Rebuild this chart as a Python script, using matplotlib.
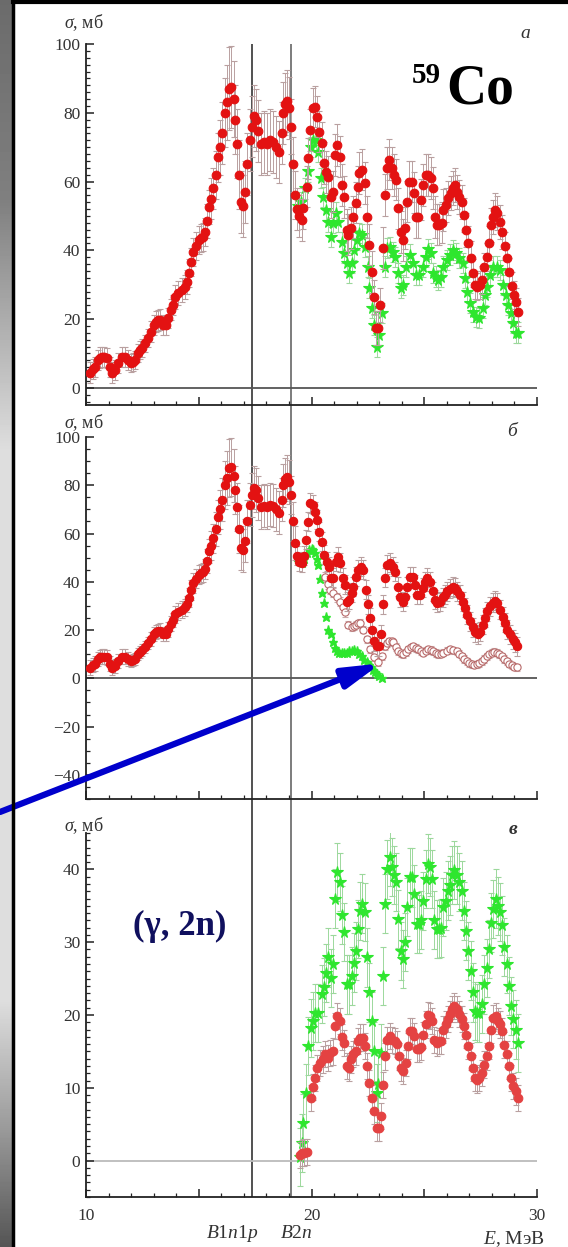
import numpy as np
import matplotlib
matplotlib.use("Agg")
import matplotlib.pyplot as plt
from matplotlib.lines import Line2D
from matplotlib.ticker import MultipleLocator, FixedFormatter, FixedLocator

plt.rcParams['font.family'] = ['Liberation Serif', 'DejaVu Serif']
plt.rcParams['mathtext.fontset'] = 'custom'
plt.rcParams['mathtext.rm'] = 'Liberation Serif'
plt.rcParams['mathtext.it'] = 'Liberation Serif:italic'
plt.rcParams['mathtext.bf'] = 'Liberation Serif:bold'

# thresholds (MeV)
B1N1P = 17.35
B2N = 19.1

# (E, sigma, error) -- part common to panels a and b
red_low = [(10.18, 4.4, 3), (10.3, 5.5, 3), (10.4, 6.1, 3), (10.53, 8.1, 3), (10.62, 8.8, 3),
           (10.7, 9.0, 3), (10.82, 9.0, 3), (10.93, 8.7, 3), (11.06, 6.1, 3), (11.15, 4.4, 3),
           (11.3, 5.2, 3), (11.44, 7.2, 3), (11.6, 9.0, 3), (11.73, 9.0, 3), (11.86, 8.1, 3),
           (12.0, 7.2, 2.5), (12.1, 7.5, 2.5), (12.17, 8.1, 2.5), (12.3, 10.1, 2.5), (12.4, 11.0, 2.5),
           (12.48, 11.6, 2.5), (12.6, 13.0, 2.5), (12.75, 14.5, 2.5), (12.9, 16.3, 3), (13.0, 18.3, 3),
           (13.1, 19.2, 3), (13.2, 19.6, 3), (13.3, 19.8, 3), (13.4, 18.3, 3), (13.55, 18.3, 3),
           (13.65, 20.3, 3), (13.75, 22.7, 3), (13.85, 24.1, 3), (13.95, 26.5, 3.5), (14.1, 27.6, 3.5),
           (14.25, 28.5, 3.5), (14.4, 29.4, 3.5), (14.5, 30.8, 3.5), (14.57, 33.4, 4), (14.65, 36.6, 4),
           (14.75, 39.5, 4), (14.87, 41.3, 4), (15.0, 43.0, 4), (15.1, 43.5, 4), (15.2, 43.9, 4),
           (15.28, 45.3, 4), (15.35, 48.5, 5), (15.47, 52.6, 5), (15.56, 55.0, 6), (15.65, 58.0, 6),
           (15.75, 62.0, 7), (15.85, 67.0, 7), (15.95, 70.0, 8), (16.05, 74.0, 9), (16.15, 80.0, 10),
           (16.25, 83.0, 11), (16.35, 87.0, 12), (16.45, 87.5, 12), (16.55, 84.0, 11), (16.62, 78.0, 10),
           (16.7, 71.0, 10), (16.78, 62.0, 10), (16.87, 54.0, 9), (16.96, 53.0, 9), (17.05, 57.0, 9),
           (17.15, 65.0, 9), (17.27, 72.0, 9), (17.36, 76.0, 9), (17.45, 79.0, 9), (17.54, 78.0, 9),
           (17.64, 74.8, 9), (17.76, 71.0, 9), (17.9, 71.5, 9), (18.03, 71.0, 9), (18.16, 72.0, 9),
           (18.3, 71.5, 9), (18.43, 70.0, 9), (18.56, 68.6, 9), (18.68, 74.0, 9), (18.75, 80.0, 9),
           (18.83, 82.5, 9), (18.92, 83.5, 9), (19.02, 81.4, 9), (19.08, 76.0, 8), (19.17, 65.0, 8),
           (19.27, 56.2, 7)]

red_a = [(19.34, 52.0, 6), (19.45, 50.0, 6), (19.57, 48.8, 6), (19.64, 52.2, 6), (19.79, 58.5, 6),
         (19.86, 66.8, 6), (19.95, 75.0, 6), (20.05, 81.3, 6), (20.16, 81.8, 6), (20.23, 78.9, 6),
         (20.35, 74.5, 6), (20.45, 71.2, 6), (20.55, 65.4, 6), (20.64, 62.8, 6), (20.74, 61.3, 6),
         (20.85, 55.5, 6), (20.94, 57.0, 6), (21.04, 67.7, 6), (21.14, 70.6, 6), (21.26, 67.2, 6),
         (21.34, 59.0, 6), (21.45, 55.5, 6), (21.56, 45.9, 6), (21.63, 44.5, 6), (21.75, 46.5, 6),
         (21.85, 49.7, 6), (21.97, 53.8, 6), (22.05, 58.5, 6), (22.12, 62.5, 6), (22.24, 63.4, 6),
         (22.37, 59.6, 6), (22.45, 49.7, 6), (22.56, 41.6, 6), (22.67, 33.7, 6), (22.77, 26.5, 5),
         (22.86, 17.4, 5), (22.96, 17.4, 5), (23.05, 24.1, 5), (23.16, 40.7, 6), (23.26, 56.1, 6),
         (23.36, 63.9, 6), (23.45, 66.3, 6), (23.56, 63.9, 6), (23.66, 61.9, 6), (23.75, 60.5, 6),
         (23.85, 52.2, 6), (23.96, 45.3, 6), (24.04, 43.0, 6), (24.15, 46.5, 6), (24.25, 54.1, 6),
         (24.34, 59.9, 6), (24.44, 59.9, 6), (24.55, 56.7, 6), (24.63, 49.7, 6), (24.74, 49.7, 6),
         (24.84, 54.7, 6), (24.96, 59.0, 6), (25.06, 61.9, 6), (25.18, 61.9, 6), (25.29, 61.0, 6),
         (25.37, 58.1, 6), (25.48, 49.7, 6), (25.55, 47.4, 6), (25.67, 47.4, 6), (25.77, 48.0, 6),
         (25.85, 51.7, 6), (25.96, 53.2, 5), (26.07, 55.2, 5), (26.17, 56.7, 5), (26.26, 58.1, 5),
         (26.36, 59.0, 5), (26.47, 57.0, 5), (26.55, 55.5, 5), (26.66, 54.1, 5), (26.76, 50.3, 5),
         (26.85, 45.9, 5), (26.95, 42.2, 5), (27.06, 37.8, 5), (27.15, 33.4, 4), (27.25, 29.9, 4),
         (27.35, 29.4, 4), (27.47, 29.9, 4), (27.56, 31.4, 4), (27.65, 35.2, 4), (27.77, 38.1, 4),
         (27.86, 42.2, 5), (27.95, 47.4, 5), (28.04, 49.7, 5), (28.14, 51.7, 5), (28.24, 50.9, 5),
         (28.36, 48.3, 5), (28.45, 45.3, 5), (28.57, 41.3, 4), (28.66, 37.8, 4), (28.77, 33.7, 4),
         (28.88, 29.7, 4), (28.98, 27.0, 4), (29.07, 25.0, 4), (29.17, 22.1, 4)]

green_a = [(19.4, 53.0, 3), (19.55, 54.0, 3), (19.7, 58.0, 3), (19.85, 63.0, 3), (19.97, 70.0, 3),
           (20.08, 72.1, 3), (20.19, 72.0, 3), (20.3, 68.6, 3), (20.4, 61.0, 3), (20.52, 55.5, 3),
           (20.64, 51.7, 3), (20.74, 48.3, 3), (20.85, 43.9, 3), (20.97, 48.0, 3), (21.09, 50.9, 3),
           (21.19, 48.3, 3), (21.34, 42.4, 3), (21.44, 39.2, 3), (21.56, 36.3, 3), (21.67, 33.4, 3),
           (21.78, 36.3, 3), (21.88, 40.1, 3), (22.0, 43.0, 3), (22.12, 45.0, 3), (22.22, 44.5, 3),
           (22.37, 41.0, 3), (22.49, 35.2, 3), (22.56, 29.0, 3), (22.67, 23.3, 3), (22.77, 18.3, 3),
           (22.89, 11.9, 3), (23.0, 15.4, 3), (23.11, 21.8, 3), (23.26, 35.2, 3), (23.36, 40.7, 3),
           (23.48, 41.0, 3), (23.6, 39.5, 3), (23.7, 38.1, 3), (23.85, 33.4, 3), (23.96, 29.1, 3),
           (24.07, 29.9, 3), (24.19, 35.2, 3), (24.37, 38.7, 3), (24.51, 36.3, 3), (24.63, 32.8, 3),
           (24.78, 32.8, 3), (24.93, 35.2, 3), (25.08, 38.1, 3), (25.18, 40.4, 3), (25.29, 39.2, 3),
           (25.4, 33.4, 3), (25.52, 32.3, 3), (25.62, 31.4, 3), (25.73, 32.3, 3), (25.85, 35.2, 3),
           (26.0, 37.2, 3), (26.14, 38.7, 3), (26.29, 40.1, 3), (26.41, 39.2, 3), (26.55, 37.8, 3),
           (26.7, 36.3, 3), (26.81, 32.0, 3), (26.91, 27.9, 3), (27.03, 24.7, 3), (27.15, 22.1, 3),
           (27.3, 20.6, 3), (27.44, 20.3, 3), (27.59, 23.3, 3), (27.69, 27.0, 3), (27.8, 29.4, 3),
           (27.92, 32.8, 3), (28.06, 35.2, 3), (28.21, 35.2, 3), (28.36, 34.3, 3), (28.5, 29.9, 3),
           (28.62, 27.0, 3), (28.73, 24.1, 3), (28.83, 21.8, 3), (28.95, 18.9, 3), (29.07, 16.0, 3),
           (29.17, 16.0, 3)]

red_b = [(19.34, 50.8, 4), (19.46, 48.3, 4), (19.56, 47.9, 4), (19.67, 50.8, 4), (19.76, 57.4, 4),
         (19.86, 64.9, 4), (19.93, 72.7, 4), (20.05, 71.9, 4), (20.16, 69.0, 4), (20.26, 65.7, 4),
         (20.35, 60.7, 4), (20.45, 56.6, 4), (20.55, 51.2, 4), (20.67, 48.3, 4), (20.78, 46.3, 4),
         (20.85, 41.7, 4), (20.97, 41.7, 4), (21.09, 48.3, 4), (21.19, 50.4, 4), (21.26, 47.9, 4),
         (21.38, 41.7, 4), (21.49, 38.8, 4), (21.56, 31.8, 4), (21.68, 32.6, 4), (21.78, 35.5, 4),
         (21.85, 38.0, 4), (21.97, 42.1, 4), (22.08, 45.0, 4), (22.2, 46.3, 4), (22.3, 45.0, 4),
         (22.42, 36.8, 4), (22.52, 30.6, 4), (22.6, 25.2, 4), (22.67, 20.2, 4), (22.77, 15.3, 4),
         (22.89, 13.2, 4), (23.0, 13.2, 4), (23.08, 18.2, 4), (23.18, 30.6, 4), (23.26, 41.7, 4),
         (23.36, 47.1, 4), (23.48, 47.9, 4), (23.6, 46.3, 4), (23.7, 44.2, 4), (23.82, 38.0, 4),
         (23.92, 33.5, 4), (24.04, 31.8, 4), (24.15, 33.9, 4), (24.25, 38.0, 4), (24.37, 42.1, 4),
         (24.49, 42.1, 4), (24.59, 38.8, 4), (24.69, 34.7, 4), (24.81, 34.7, 4), (24.93, 37.6, 4),
         (25.03, 40.1, 4), (25.13, 41.7, 4), (25.25, 40.1, 4), (25.37, 36.0, 4), (25.48, 32.6, 4),
         (25.58, 31.4, 4), (25.7, 31.8, 4), (25.82, 33.5, 4), (25.92, 34.7, 4), (26.02, 36.0, 4),
         (26.14, 37.2, 4), (26.26, 38.0, 4), (26.36, 37.6, 4), (26.47, 36.0, 4), (26.58, 34.7, 4),
         (26.7, 31.8, 4), (26.81, 29.3, 4), (26.91, 26.4, 4), (27.03, 23.6, 4), (27.15, 21.1, 4),
         (27.25, 19.0, 4), (27.37, 18.2, 4), (27.47, 19.4, 4), (27.59, 22.3, 4), (27.69, 25.2, 4),
         (27.8, 27.7, 4), (27.92, 29.8, 4), (28.04, 31.4, 4), (28.14, 32.2, 4), (28.24, 31.4, 4),
         (28.36, 28.5, 4), (28.48, 25.6, 4), (28.58, 23.1, 4), (28.68, 20.2, 4), (28.8, 18.2, 4),
         (28.92, 16.1, 4), (29.02, 14.9, 4), (29.12, 13.2, 4)]

open_b = [(20.6, 42.0, 2), (20.72, 39.0, 2), (20.82, 36.8, 2), (20.97, 35.5, 2), (21.12, 33.5, 2),
          (21.26, 31.8, 2), (21.38, 29.5, 2), (21.49, 27.3, 2), (21.63, 22.3, 1.5), (21.78, 21.1, 1.5),
          (21.88, 21.6, 1.5), (21.97, 22.3, 1.5), (22.07, 22.8, 1.5), (22.15, 23.1, 1.5), (22.3, 20.2, 1.5),
          (22.45, 16.1, 1.5), (22.6, 12.0, 1.5), (22.77, 8.7, 1.5), (22.96, 6.6, 1.5), (23.11, 9.1, 1.5),
          (23.26, 13.2, 1.5), (23.35, 14.5, 1.5), (23.45, 15.3, 1.5), (23.55, 15.4, 1.5), (23.63, 14.9, 1.5),
          (23.74, 13.0, 1.5), (23.85, 11.2, 1.5), (23.96, 10.3, 1.5), (24.07, 9.9, 1.5), (24.18, 10.8, 1.5),
          (24.29, 12.0, 1.5), (24.4, 12.8, 1.5), (24.51, 13.2, 1.5), (24.62, 12.6, 1.5), (24.74, 12.0, 1.5),
          (24.85, 11.2, 1.5), (24.96, 10.7, 1.5), (25.07, 11.4, 1.5), (25.18, 12.0, 1.5), (25.29, 11.7, 1.5),
          (25.4, 11.2, 1.5), (25.51, 10.5, 1.5), (25.62, 9.9, 1.5), (25.73, 10.2, 1.5), (25.85, 10.7, 1.5),
          (26.0, 11.5, 1.5), (26.14, 12.0, 1.5), (26.29, 11.6, 1.5), (26.44, 11.2, 1.5), (26.55, 10.2, 1.5),
          (26.66, 9.1, 1.5), (26.77, 8.0, 1.5), (26.88, 7.0, 1.5), (26.99, 6.3, 1.5), (27.1, 5.8, 1.5),
          (27.21, 5.6, 1.5), (27.32, 5.8, 1.5), (27.43, 6.3, 1.5), (27.55, 7.0, 1.5), (27.66, 8.0, 1.5),
          (27.77, 9.1, 1.5), (27.88, 10.0, 1.5), (27.99, 10.7, 1.5), (28.1, 10.9, 1.5), (28.21, 10.7, 1.5),
          (28.32, 10.0, 1.5), (28.43, 9.1, 1.5), (28.55, 8.0, 1.5), (28.66, 7.0, 1.5), (28.77, 6.1, 1.5),
          (28.88, 5.4, 1.5), (28.99, 4.9, 1.5), (29.1, 4.5, 1.5)]

green_b = [(19.34, 50.4), (19.45, 49.0), (19.56, 47.9), (19.67, 49.5), (19.79, 52.0), (19.9, 53.0),
           (20.0, 53.7), (20.08, 53.0), (20.16, 52.0), (20.23, 49.5), (20.3, 47.1), (20.38, 41.0),
           (20.45, 35.5), (20.55, 31.4), (20.64, 25.6), (20.74, 20.2), (20.85, 18.2), (20.97, 14.9),
           (21.05, 12.5), (21.14, 11.2), (21.24, 10.5), (21.34, 10.3), (21.45, 10.5), (21.56, 10.7),
           (21.67, 11.5), (21.78, 11.2), (21.89, 11.6), (22.0, 11.2), (22.11, 10.0), (22.22, 9.1),
           (22.33, 7.8), (22.45, 6.6), (22.53, 5.5), (22.62, 4.5), (22.72, 3.5), (22.82, 2.5),
           (22.91, 1.6), (23.0, 0.8), (23.11, 0.0)]

green_c = [(19.49, 0.5, 4), (19.56, 2.4, 4), (19.64, 5.1, 4), (19.76, 9.3, 4), (19.86, 15.7, 4),
           (19.96, 18.2, 4), (20.05, 19.2, 4), (20.16, 20.3, 4), (20.3, 20.3, 4), (20.45, 22.9, 4),
           (20.55, 23.8, 4), (20.64, 25.8, 4), (20.74, 27.9, 4), (20.85, 25.1, 4), (20.94, 27.0, 4),
           (21.04, 36.0, 4), (21.14, 39.6, 4), (21.26, 38.3, 4), (21.35, 33.7, 4), (21.45, 31.4, 4),
           (21.56, 24.2, 4), (21.68, 24.2, 4), (21.78, 25.4, 4), (21.88, 27.2, 4), (21.97, 28.8, 4),
           (22.08, 31.8, 4), (22.15, 34.3, 4), (22.26, 35.3, 4), (22.37, 34.1, 4), (22.48, 27.9, 4),
           (22.56, 23.1, 4), (22.67, 19.2, 4), (22.77, 15.0, 4), (22.89, 9.3, 4), (22.96, 10.5, 4),
           (23.07, 14.8, 4), (23.18, 25.4, 4), (23.27, 35.3, 4), (23.36, 40.0, 4), (23.48, 41.7, 4),
           (23.57, 40.3, 4), (23.66, 39.2, 4), (23.75, 38.3, 4), (23.85, 33.2, 4), (23.96, 28.8, 4),
           (24.07, 27.7, 4), (24.16, 30.0, 4), (24.25, 34.8, 4), (24.37, 38.9, 4), (24.47, 38.9, 4),
           (24.56, 36.6, 4), (24.67, 32.5, 4), (24.78, 32.5, 4), (24.86, 33.0, 4), (24.96, 35.7, 4),
           (25.06, 38.7, 4), (25.15, 40.8, 4), (25.25, 40.3, 4), (25.36, 38.7, 4), (25.45, 33.0, 4),
           (25.55, 31.8, 4), (25.65, 31.8, 4), (25.75, 32.0, 4), (25.85, 34.8, 4), (25.95, 35.7, 4),
           (26.04, 37.1, 4), (26.14, 37.8, 4), (26.25, 39.2, 4), (26.34, 39.9, 4), (26.44, 39.2, 4),
           (26.54, 38.3, 4), (26.66, 37.1, 4), (26.76, 34.3, 4), (26.85, 31.6, 4), (26.95, 28.8, 4),
           (27.06, 26.1, 4), (27.15, 23.1, 4), (27.25, 20.6, 4), (27.35, 20.3, 4), (27.44, 20.3, 4),
           (27.55, 21.5, 4), (27.65, 24.2, 4), (27.77, 26.5, 4), (27.86, 29.1, 4), (27.96, 32.7, 4),
           (28.06, 34.6, 4), (28.16, 36.0, 4), (28.25, 35.0, 4), (28.36, 34.1, 4), (28.46, 32.3, 4),
           (28.55, 29.3, 4), (28.66, 27.0, 4), (28.76, 24.0, 4), (28.85, 21.2, 4), (28.95, 19.4, 4),
           (29.06, 18.0, 4), (29.14, 16.2, 4)]

red_c = [(19.49, 0.8, 1.8), (19.56, 1.0, 1.8), (19.67, 1.1, 1.8), (19.79, 1.2, 1.8), (19.96, 8.6, 1.8),
         (20.05, 10.1, 1.8), (20.16, 11.4, 1.8), (20.26, 12.7, 1.8), (20.38, 13.4, 1.8), (20.5, 13.9, 1.8),
         (20.6, 14.6, 1.8), (20.72, 14.1, 1.8), (20.82, 14.8, 1.8), (20.94, 15.0, 1.8), (21.04, 18.5, 1.8),
         (21.14, 19.9, 1.8), (21.26, 19.2, 1.8), (21.35, 17.0, 1.8), (21.45, 16.2, 1.8), (21.56, 13.0, 1.8),
         (21.66, 12.7, 1.8), (21.75, 13.9, 1.8), (21.85, 14.6, 1.8), (21.96, 15.0, 1.8), (22.05, 16.4, 1.8),
         (22.15, 16.9, 1.8), (22.27, 16.9, 1.8), (22.37, 15.7, 1.8), (22.47, 13.0, 1.8), (22.56, 10.7, 1.8),
         (22.67, 8.6, 1.8), (22.77, 6.8, 1.8), (22.89, 4.5, 1.8), (22.98, 4.5, 1.8), (23.07, 6.1, 1.8),
         (23.18, 10.4, 1.8), (23.27, 14.3, 1.8), (23.36, 16.6, 1.8), (23.48, 17.1, 1.8), (23.58, 16.6, 1.8),
         (23.69, 16.4, 1.8), (23.77, 16.0, 1.8), (23.88, 14.3, 1.8), (23.98, 12.7, 1.8), (24.07, 12.3, 1.8),
         (24.18, 13.4, 1.8), (24.27, 15.7, 1.8), (24.37, 17.8, 1.8), (24.47, 17.8, 1.8), (24.56, 17.1, 1.8),
         (24.67, 15.3, 1.8), (24.77, 15.3, 1.8), (24.86, 15.6, 1.8), (24.96, 17.3, 1.8), (25.06, 18.7, 1.8),
         (25.15, 20.0, 1.8), (25.25, 19.9, 1.8), (25.36, 19.2, 1.8), (25.45, 16.6, 1.8), (25.55, 16.2, 1.8),
         (25.65, 16.4, 1.8), (25.75, 16.4, 1.8), (25.85, 18.0, 1.8), (25.95, 18.7, 1.8), (26.04, 19.4, 1.8),
         (26.14, 20.1, 1.8), (26.25, 20.8, 1.8), (26.34, 21.2, 1.8), (26.44, 20.8, 1.8), (26.54, 20.1, 1.8),
         (26.66, 19.4, 1.8), (26.76, 18.5, 1.8), (26.85, 17.3, 1.8), (26.95, 15.7, 1.8), (27.06, 14.3, 1.8),
         (27.15, 12.7, 1.8), (27.25, 11.4, 1.8), (27.35, 11.1, 1.8), (27.44, 11.4, 1.8), (27.55, 12.0, 1.8),
         (27.65, 13.2, 1.8), (27.77, 14.3, 1.8), (27.86, 15.7, 1.8), (27.96, 17.9, 1.8), (28.06, 19.6, 1.8),
         (28.16, 19.9, 1.8), (28.25, 19.2, 1.8), (28.36, 18.7, 1.8), (28.46, 17.8, 1.8), (28.55, 15.9, 1.8),
         (28.66, 14.6, 1.8), (28.76, 13.0, 1.8), (28.85, 11.4, 1.8), (28.95, 10.2, 1.8), (29.06, 9.5, 1.8),
         (29.14, 8.6, 1.8)]

RED = '#e31212'
RED_C = '#e44242'
GREEN = '#2ee62e'
ERR_RED = '#b9a0a0'
ERR_GREEN = '#9cd89c'

W, H = 568, 1247
fig = plt.figure(figsize=(W / 100, H / 100), dpi=100)
fig.patch.set_facecolor('white')


def fx(x):
    return x / W


def fy(y):
    return 1 - y / H


# grey slide background strip on the left + black frame
strip = fig.add_axes([0, 0, fx(12), 1])
rows = np.arange(H)
shade = np.interp(rows, [0, 200, 450, 1000, 1130, H], [0.42, 0.5, 0.87, 0.87, 0.6, 0.33])
strip.imshow(shade[:, None], cmap='gray', vmin=0, vmax=1, aspect='auto', extent=[0, 1, 0, 1])
strip.axis('off')
fig.add_artist(Line2D([fx(13), fx(13)], [0, 1], color='black', lw=2.5, transform=fig.transFigure))
fig.add_artist(Line2D([fx(13), 1], [fy(2), fy(2)], color='black', lw=3, transform=fig.transFigure))

# overlay for the threshold lines crossing all three panels
X0, X1 = 86, 537
ov = fig.add_axes([fx(X0), fy(1197), fx(X1) - fx(X0), fy(44) - fy(1197)], zorder=0)
ov.set_xlim(10, 30)
ov.axis('off')
ov.axvline(B1N1P, color='#333333', lw=1.2)
ov.axvline(B2N, color='#666666', lw=1.2)


def make_panel(top, bottom, ymin, ymax, major, minor, zero_color):
    ax = fig.add_axes([fx(X0), fy(bottom), fx(X1) - fx(X0), fy(top) - fy(bottom)], zorder=1)
    ax.set_facecolor('none')
    ax.set_xlim(10, 30)
    ax.set_ylim(ymin, ymax)
    for s in ('top', 'right'):
        ax.spines[s].set_visible(False)
    for s in ('left', 'bottom'):
        ax.spines[s].set_linewidth(1.3)
        ax.spines[s].set_color('#222222')
    ax.xaxis.set_major_locator(MultipleLocator(5))
    ax.xaxis.set_minor_locator(MultipleLocator(1))
    ax.yaxis.set_major_locator(MultipleLocator(major))
    ax.yaxis.set_minor_locator(MultipleLocator(minor))
    ax.tick_params(which='both', direction='in', colors='#222222', labelsize=12.5, labelcolor='#333333')
    ax.tick_params(which='major', length=6, width=1.1, pad=4)
    ax.tick_params(which='minor', length=3, width=0.9)
    ax.tick_params(axis='x', labelbottom=False)
    ax.axhline(0, color=zero_color, lw=1.3, zorder=1)
    return ax


def draw(ax, rows, color, marker, ms, ecolor, mfc=None, z=3):
    d = np.array(rows)
    ax.errorbar(d[:, 0], d[:, 1], yerr=d[:, 2], fmt=marker, ms=ms, mfc=mfc or color, mec=color,
                mew=0.8, ecolor=ecolor, elinewidth=0.7, capsize=2.3, capthick=0.7, zorder=z)


# panel a
ax_a = make_panel(44, 405, -5, 100, 20, 2, '#555555')
draw(ax_a, green_a, GREEN, '*', 8.5, ERR_GREEN, z=2)
draw(ax_a, red_low, RED, 'o', 6.2, ERR_RED)
draw(ax_a, red_a, RED, 'o', 6.2, ERR_RED)

# panel b
ax_b = make_panel(437, 799, -50, 100, 20, 5, '#555555')
draw(ax_b, open_b, '#b86a6a', 'o', 5.2, '#c9a9a9', mfc='white', z=2)
gb = np.array(green_b)
ax_b.plot(gb[:, 0], gb[:, 1], '*', ms=6.5, color=GREEN, zorder=2)
draw(ax_b, red_low, RED, 'o', 6.0, ERR_RED)
draw(ax_b, red_b, RED, 'o', 6.0, ERR_RED)

# panel c
ax_c = make_panel(833, 1197, -5, 45, 10, 1, '#bbbbbb')
draw(ax_c, green_c, GREEN, '*', 8.5, ERR_GREEN, z=2)
draw(ax_c, red_c, RED_C, 'o', 6.2, ERR_RED)
ax_c.tick_params(axis='x', labelbottom=True, pad=8, labelsize=12.5)
ax_c.xaxis.set_major_formatter(FixedFormatter(['10', '', '20', '', '30']))
ax_c.xaxis.set_major_locator(FixedLocator([10, 15, 20, 25, 30]))

# labels
for y in (23, 423, 826):
    fig.text(fx(84), fy(y), r'$\sigma$, мб', fontsize=13, ha='center', va='center', color='#333333')
fig.text(fx(525), fy(33), 'а', fontsize=14, style='italic', ha='center', va='center', color='#333333')
fig.text(fx(512), fy(431), 'б', fontsize=14, style='italic', ha='center', va='center', color='#333333')
fig.text(fx(513), fy(829), 'в', fontsize=14, style='italic', weight='bold', ha='center', va='center',
         color='#333333')
fig.text(fx(412), fy(62), '59', fontsize=21, weight='bold', ha='left', va='top')
fig.text(fx(446), fy(104), 'Co', fontsize=40, weight='bold', ha='left', va='baseline')
fig.text(fx(180), fy(926), '(γ, 2n)', fontsize=25, weight='bold', ha='center', va='center', color='#10105e')
fig.text(fx(232), fy(1233), r'$B$1$n$1$p$', fontsize=14, ha='center', va='center', color='#333333')
fig.text(fx(296), fy(1233), r'$B$2$n$', fontsize=14, ha='center', va='center', color='#333333')
fig.text(fx(545), fy(1239), r'$E$, МэВ', fontsize=14, ha='right', va='center', color='#333333')

# blue arrow pointing at the (gamma, 2n) threshold region in panel b
ax_b.annotate('', xy=(23.08, 6.2), xycoords='data', xytext=(fx(0), fy(812)), textcoords='figure fraction',
              arrowprops=dict(arrowstyle='-|>,head_length=1.1,head_width=0.3', mutation_scale=20,
                              color='#0000cc', lw=4.5, shrinkA=0, shrinkB=0),
              annotation_clip=False, zorder=10)

fig.savefig('out.png', dpi=100)
